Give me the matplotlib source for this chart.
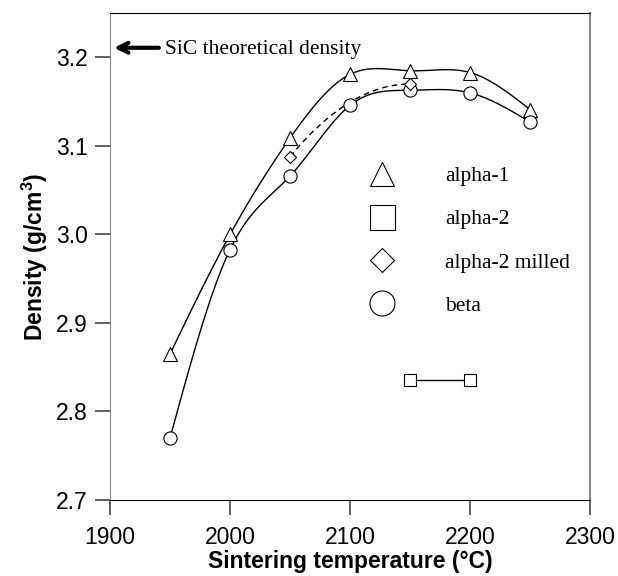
import numpy as np
import matplotlib.pyplot as plt
from matplotlib.lines import Line2D

# data
temp = [1950, 2000, 2050, 2100, 2150, 2200, 2250]
alpha1 = [2.865, 3.000, 3.109, 3.181, 3.185, 3.183, 3.141]
beta = [2.770, 2.983, 3.066, 3.146, 3.163, 3.160, 3.127]
milled_t = [2050, 2150]
milled = [3.088, 3.170]
alpha2_t = [2150, 2200]
alpha2 = [2.836, 2.836]
sic_density = 3.211
xticks = [1900, 2000, 2100, 2200, 2300]
yticks = [2.7, 2.8, 2.9, 3.0, 3.1, 3.2]

plt.rcParams['font.family'] = ['Liberation Sans', 'DejaVu Sans']


def natural_spline(x, y, xs):
    # natural cubic spline through the points
    x = np.asarray(x, float)
    y = np.asarray(y, float)
    n = len(x)
    h = np.diff(x)
    A = np.zeros((n, n))
    r = np.zeros(n)
    A[0, 0] = A[-1, -1] = 1
    for i in range(1, n - 1):
        A[i, i - 1] = h[i - 1]
        A[i, i] = 2 * (h[i - 1] + h[i])
        A[i, i + 1] = h[i]
        r[i] = 6 * ((y[i + 1] - y[i]) / h[i] - (y[i] - y[i - 1]) / h[i - 1])
    m = np.linalg.solve(A, r)
    k = np.clip(np.searchsorted(x, xs) - 1, 0, n - 2)
    t0 = x[k + 1] - xs
    t1 = xs - x[k]
    hk = h[k]
    return (m[k] * t0 ** 3 / (6 * hk) + m[k + 1] * t1 ** 3 / (6 * hk)
            + (y[k] / hk - m[k] * hk / 6) * t0 + (y[k + 1] / hk - m[k + 1] * hk / 6) * t1)


fig = plt.figure(figsize=(6.18, 5.76), dpi=100)
ax = fig.add_axes([0.178, 0.132, 0.777, 0.845])

# axes setup first
ax.set_xlim(1900, 2300)
ax.set_ylim(2.7, 3.25)
ax.set_xticks(xticks)
ax.set_yticks(yticks)
ax.set_yticklabels([f'{v:.1f}' for v in yticks])
ax.tick_params(axis='both', which='major', direction='out', length=11, width=1.1,
               color='#333333', labelsize=16.5)
ax.tick_params(axis='x', pad=8)
ax.tick_params(axis='y', pad=5)
for s in ['left', 'right']:
    ax.spines[s].set_color('#888888')
ax.spines['right'].set_linewidth(1.5)

xs = np.linspace(1950, 2250, 300)
ax.plot(xs, natural_spline(temp, alpha1, xs), color='black', lw=1)
ax.plot(xs, natural_spline(temp, beta, xs), color='black', lw=1)
# dashed: quadratic through the milled points, flat at the top
a = (milled[1] - milled[0]) / (milled_t[1] - milled_t[0]) ** 2
xd = np.linspace(milled_t[0], milled_t[1], 100)
ax.plot(xd, milled[1] - a * (xd - milled_t[1]) ** 2, color='black', lw=1, ls=(0, (4, 3)))

mk = dict(mfc='white', mec='black', mew=0.8, ls='none')
ax.plot(temp, alpha1, marker='^', ms=9.5, **mk)
ax.plot(temp, beta, marker='o', ms=9.5, **mk)
ax.plot(milled_t, milled, marker='D', ms=6.5, **mk)
ax.plot(alpha2_t, alpha2, color='black', lw=1, marker='s', ms=9, mfc='white', mec='black', mew=0.8)

# legend
handles = [
    Line2D([], [], marker='^', ms=17, **mk),
    Line2D([], [], marker='s', ms=18, **mk),
    Line2D([], [], marker='D', ms=12.5, **mk),
    Line2D([], [], marker='o', ms=18, **mk),
]
labels = ['alpha-1', 'alpha-2', 'alpha-2 milled', 'beta']
ax.legend(handles, labels, loc='upper left', bbox_to_anchor=(0.492, 0.726),
          frameon=False, prop={'family': 'Liberation Serif', 'size': 15.5},
          labelspacing=1.08, handletextpad=2.2, handlelength=1.5)

# theoretical density arrow
ax.annotate('', xy=(1901, sic_density), xytext=(1943, sic_density),
            arrowprops=dict(arrowstyle='->, head_length=0.7, head_width=0.35', lw=3, color='black'))
ax.text(1946, sic_density - 0.0025, 'SiC theoretical density', family='Liberation Serif',
        fontsize=15.5, va='center', ha='left')

ax.set_xlabel('Sintering temperature (°C)', fontsize=16.5, fontweight='bold', labelpad=0.5)
ax.set_ylabel(r'Density (g/cm$^{\mathregular{3}}$)', fontsize=16.5, fontweight='bold', labelpad=4)

fig.savefig('out.png', dpi=100)
